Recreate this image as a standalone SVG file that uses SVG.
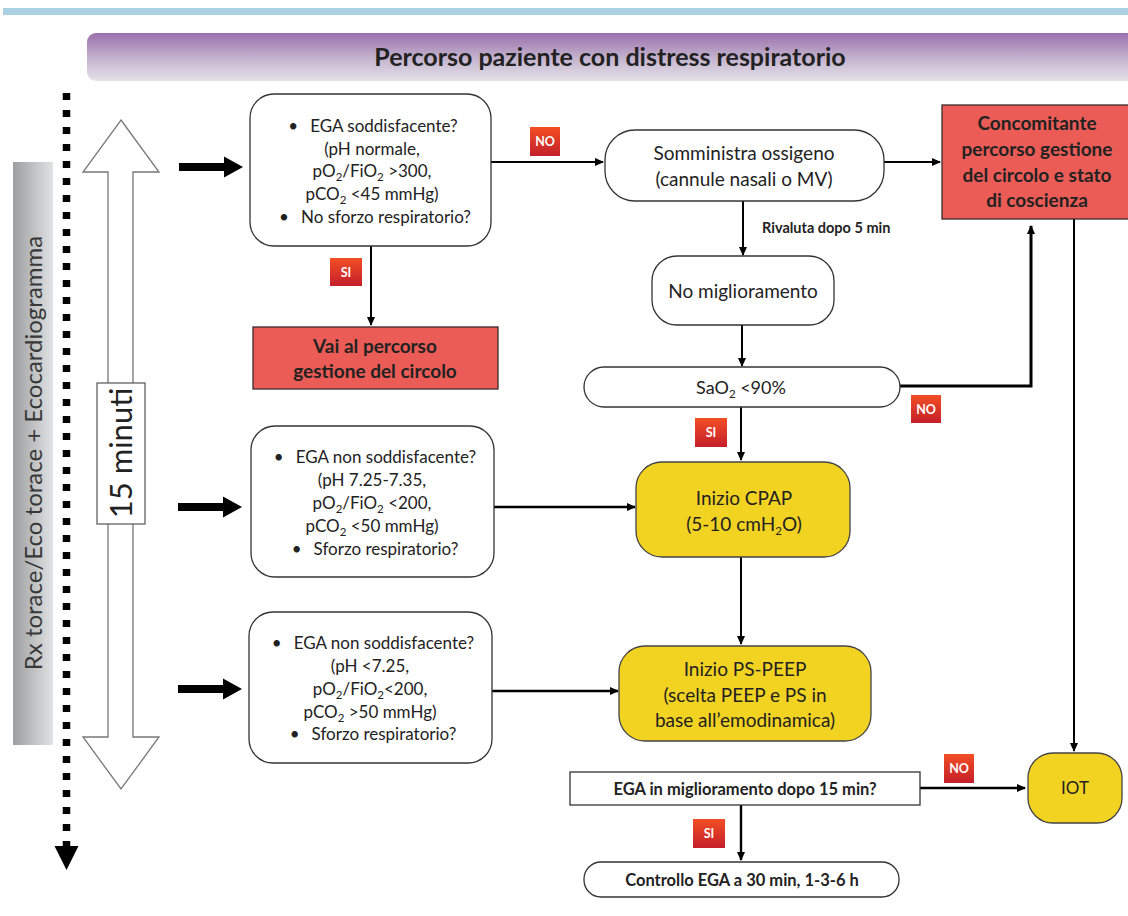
<svg xmlns="http://www.w3.org/2000/svg" width="1128" height="916" viewBox="0 0 1128 916">
  <defs>
    <linearGradient id="titleGrad" x1="0" y1="0" x2="0" y2="1">
      <stop offset="0" stop-color="#9b6fad"/>
      <stop offset="0.5" stop-color="#c2b0cc"/>
      <stop offset="1" stop-color="#e3e2e9"/>
    </linearGradient>
    <linearGradient id="sideGrad" x1="0" y1="0" x2="1" y2="0">
      <stop offset="0" stop-color="#9c9ea0"/>
      <stop offset="1" stop-color="#e0e2e4"/>
    </linearGradient>
    <linearGradient id="badgeGrad" x1="0" y1="0" x2="0" y2="1">
      <stop offset="0" stop-color="#f24e24"/>
      <stop offset="1" stop-color="#c41f2b"/>
    </linearGradient>
    <marker id="arrow" markerUnits="userSpaceOnUse" markerWidth="9" markerHeight="8" refX="8" refY="4" orient="auto">
      <path d="M0,0 L9,4 L0,8 Z" fill="#000"/>
    </marker>
    <marker id="dotHead" markerUnits="userSpaceOnUse" markerWidth="24" markerHeight="26" refX="0" refY="12" orient="auto">
      <path d="M0,0 L24,12 L0,24 Z" fill="#000"/>
    </marker>
  </defs>
  <style>
    text { font-family: Lato, "Liberation Sans", sans-serif; fill: #222; }
    .body { font-size: 17px; text-anchor: middle; }
    .mid { font-size: 16.5px; text-anchor: middle; }
    .big { font-size: 19px; text-anchor: middle; }
    .bold { font-weight: bold; }
    .sub { font-size: 11.5px; }
    .box { fill: #fff; stroke: #333; stroke-width: 1.3; }
    .red { fill: #ec5c57; stroke: #3a2a2a; stroke-width: 1.3; }
    .yellow { fill: #f3d322; stroke: #444; stroke-width: 1.3; }
    .badge { fill: url(#badgeGrad); }
    .badge-t { font-size: 12.5px; font-weight: bold; fill: #fff; text-anchor: middle; }
    .conn { fill: none; stroke: #000; stroke-width: 2; marker-end: url(#arrow); }
    .bigarrow { fill: #000; }
  </style>

  <!-- header band and title bar -->
  <rect x="3" y="8" width="1125" height="7" fill="#a9d1e3"/>
  <g id="title">
    <rect x="87" y="33" width="1050" height="48" rx="9" fill="url(#titleGrad)"/>
    <text x="610" y="66" font-size="25" font-weight="bold" text-anchor="middle">Percorso paziente con distress respiratorio</text>
  </g>

  <!-- timeline on the left -->
  <g id="side-label">
    <rect x="13" y="162" width="40" height="583" fill="url(#sideGrad)"/>
    <text transform="translate(42,453) rotate(-90)" font-size="24" text-anchor="middle" style="fill:#383838">Rx torace/Eco torace + Ecocardiogramma</text>
  </g>
  <g id="timeline">
    <line x1="66.5" y1="93" x2="66.5" y2="846" stroke="#000" stroke-width="7.5" stroke-dasharray="7 10" marker-end="url(#dotHead)"/>
  </g>
  <g id="time-arrow">
    <path d="M121,120 L159,172 L133,172 L133,737 L159,737 L121,789 L83,737 L108,737 L108,172 L83,172 Z" fill="#fff" stroke="#777" stroke-width="1.3"/>
    <rect x="97" y="383" width="48" height="141" fill="#fff" stroke="#555" stroke-width="1.2"/>
    <text transform="translate(132,453) rotate(-90)" font-size="31" text-anchor="middle">15 minuti</text>
  </g>
  <g id="step-arrows">
    <path class="bigarrow" d="M179,163 H224 V156.5 L243,167 L224,177.5 V171 H179 Z"/>
    <path class="bigarrow" d="M178,503 H223 V496.5 L242,507 L223,517.5 V511 H178 Z"/>
    <path class="bigarrow" d="M178,685 H223 V678.5 L242,689 L223,699.5 V693 H178 Z"/>
  </g>

  <!-- connectors -->
  <g id="connectors">
    <line class="conn" x1="491" y1="162" x2="603" y2="162"/>
    <line class="conn" x1="371" y1="246" x2="371" y2="325"/>
    <line class="conn" x1="884" y1="162" x2="940" y2="162"/>
    <line class="conn" x1="743" y1="201" x2="743" y2="255"/>
    <line class="conn" x1="742" y1="325" x2="742" y2="366"/>
    <polyline class="conn" style="stroke-width:3" points="900,386 1031,386 1031,226"/>
    <line class="conn" x1="1074" y1="219" x2="1074" y2="751"/>
    <line class="conn" x1="741" y1="407" x2="741" y2="460"/>
    <line class="conn" style="stroke-width:2.6" x1="494" y1="507" x2="635" y2="507"/>
    <line class="conn" x1="741" y1="557" x2="741" y2="644"/>
    <line class="conn" style="stroke-width:2.6" x1="492" y1="691" x2="618" y2="691"/>
    <line class="conn" style="stroke-width:2.4" x1="920" y1="788" x2="1025" y2="788"/>
    <line class="conn" style="stroke-width:2.4" x1="741" y1="805" x2="741" y2="860"/>
  </g>

  <!-- decision labels -->
  <g id="labels">
    <rect class="badge" x="530" y="127" width="30" height="29"/>
    <text class="badge-t" x="545" y="146">NO</text>
    <rect class="badge" x="330" y="258" width="32" height="28"/>
    <text class="badge-t" x="346" y="277">SI</text>
    <rect class="badge" x="911" y="395" width="30" height="28"/>
    <text class="badge-t" x="926" y="414">NO</text>
    <rect class="badge" x="695" y="418" width="32" height="29"/>
    <text class="badge-t" x="711" y="437">SI</text>
    <rect class="badge" x="944" y="754" width="30" height="29"/>
    <text class="badge-t" x="959" y="773">NO</text>
    <rect class="badge" x="693" y="819" width="32" height="29"/>
    <text class="badge-t" x="709" y="838">SI</text>
    <text x="762" y="233" font-size="14.5" font-weight="bold">Rivaluta dopo 5 min</text>
  </g>

  <!-- nodes -->
  <g id="ega-ok">
    <rect class="box" x="250" y="94" width="241" height="152" rx="24"/>
    <text class="body" x="373" y="132">•<tspan dx="12">EGA soddisfacente?</tspan></text>
    <text class="body" x="372" y="155">(pH normale,</text>
    <text class="body" x="372" y="177">pO<tspan class="sub" dy="4">2</tspan><tspan dy="-4">/FiO</tspan><tspan class="sub" dy="4">2</tspan><tspan dy="-4"> &gt;300,</tspan></text>
    <text class="body" x="372" y="200">pCO<tspan class="sub" dy="4">2</tspan><tspan dy="-4"> &lt;45 mmHg)</tspan></text>
    <text class="body" x="375" y="223">•<tspan dx="12">No sforzo respiratorio?</tspan></text>
  </g>

  <g id="circolo">
    <rect class="red" x="253" y="327" width="245" height="62"/>
    <text class="big bold" x="375" y="353">Vai al percorso</text>
    <text class="big bold" x="375" y="378">gestione del circolo</text>
  </g>

  <g id="ossigeno">
    <rect class="box" x="605" y="130" width="279" height="71" rx="30"/>
    <text class="big" x="744" y="160">Somministra ossigeno</text>
    <text class="big" x="744" y="186">(cannule nasali o MV)</text>
  </g>

  <g id="concomitante">
    <rect class="red" x="942" y="105" width="192" height="114"/>
    <text class="big bold" x="1037" y="130">Concomitante</text>
    <text class="big bold" x="1037" y="156">percorso gestione</text>
    <text class="big bold" x="1037" y="182">del circolo e stato</text>
    <text class="big bold" x="1037" y="207">di coscienza</text>
  </g>

  <g id="no-miglioramento">
    <rect class="box" x="652" y="256" width="182" height="69" rx="25"/>
    <text class="big" x="743" y="298">No miglioramento</text>
  </g>

  <g id="sao2">
    <rect class="box" x="584" y="367" width="316" height="40" rx="20"/>
    <text class="big" style="font-size:18px" x="741" y="394">SaO<tspan class="sub" font-size="12" dy="4">2</tspan><tspan dy="-4"> &lt;90%</tspan></text>
  </g>

  <g id="ega-moderato">
    <rect class="box" x="251" y="426" width="243" height="151" rx="24"/>
    <text class="body" x="375" y="463">•<tspan dx="12">EGA non soddisfacente?</tspan></text>
    <text class="body" x="372" y="486">(pH 7.25-7.35,</text>
    <text class="body" x="372" y="509">pO<tspan class="sub" dy="4">2</tspan><tspan dy="-4">/FiO</tspan><tspan class="sub" dy="4">2</tspan><tspan dy="-4">  &lt;200,</tspan></text>
    <text class="body" x="372" y="532">pCO<tspan class="sub" dy="4">2</tspan><tspan dy="-4"> &lt;50 mmHg)</tspan></text>
    <text class="body" x="375" y="555">•<tspan dx="12">Sforzo respiratorio?</tspan></text>
  </g>

  <g id="cpap">
    <rect class="yellow" x="636" y="462" width="214" height="95" rx="26"/>
    <text class="big" x="744" y="505">Inizio CPAP</text>
    <text class="big" x="744" y="531">(5-10 cmH<tspan class="sub" font-size="12.5" dy="4">2</tspan><tspan dy="-4">O)</tspan></text>
  </g>

  <g id="ega-grave">
    <rect class="box" x="249" y="612" width="243" height="151" rx="24"/>
    <text class="body" x="373" y="649">•<tspan dx="12">EGA non soddisfacente?</tspan></text>
    <text class="body" x="370" y="672">(pH &lt;7.25,</text>
    <text class="body" x="370" y="695">pO<tspan class="sub" dy="4">2</tspan><tspan dy="-4">/FiO</tspan><tspan class="sub" dy="4">2</tspan><tspan dy="-4">&lt;200,</tspan></text>
    <text class="body" x="370" y="718">pCO<tspan class="sub" dy="4">2</tspan><tspan dy="-4"> &gt;50 mmHg)</tspan></text>
    <text class="body" x="373" y="740">•<tspan dx="12">Sforzo respiratorio?</tspan></text>
  </g>

  <g id="ps-peep">
    <rect class="yellow" x="619" y="646" width="252" height="95" rx="26"/>
    <text class="big" x="745" y="676">Inizio PS-PEEP</text>
    <text class="big" x="745" y="702">(scelta PEEP e PS in</text>
    <text class="big" x="745" y="727">base all’emodinamica)</text>
  </g>

  <g id="ega-15">
    <rect class="box" x="570" y="772" width="350" height="33"/>
    <text class="mid bold" x="745" y="795">EGA in miglioramento dopo 15 min?</text>
  </g>

  <g id="iot">
    <rect class="yellow" x="1028" y="753" width="94" height="70" rx="25"/>
    <text class="body" x="1075" y="794">IOT</text>
  </g>

  <g id="controllo">
    <rect class="box" x="584" y="862" width="315" height="35" rx="17"/>
    <text class="mid bold" x="742" y="886">Controllo EGA a 30 min, 1-3-6 h</text>
  </g>
</svg>
